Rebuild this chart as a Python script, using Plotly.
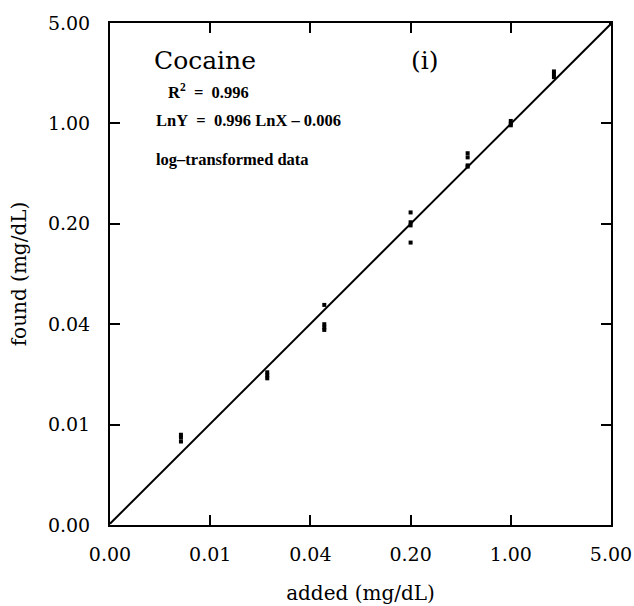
import numpy as np
import plotly.graph_objects as go

# ---- data ----
added = [0.005, 0.005, 0.005,
         0.02, 0.02, 0.02,
         0.05, 0.05, 0.05, 0.05,
         0.2, 0.2, 0.2, 0.2,
         0.5, 0.5, 0.5, 0.5,
         1.0, 1.0, 1.0,
         2.0, 2.0, 2.0,
         5.0, 5.0]
found = [0.0068, 0.0065, 0.0061,
         0.0185, 0.0176, 0.0168,
         0.0545, 0.040, 0.038, 0.0365,
         0.24, 0.205, 0.195, 0.148,
         0.62, 0.58, 0.51, 0.50,
         1.04, 1.0, 0.97,
         2.3, 2.2, 2.1,
         5.0, 4.95]

fit_slope = 0.996
fit_intercept = -0.006
axis_min = 0.0016
axis_max = 5.0

tick_vals = [0.0016, 0.008, 0.04, 0.2, 1.0, 5.0]
tick_text = ["0.00", "0.01", "0.04", "0.20", "1.00", "5.00"]

# ---- figure ----
line_x = np.array([axis_min, axis_max])
line_y = np.exp(fit_intercept) * line_x ** fit_slope

fig = go.Figure()
fig.add_trace(go.Scatter(x=line_x, y=line_y, mode="lines",
                         line=dict(color="black", width=2),
                         showlegend=False, hoverinfo="skip", cliponaxis=True))
fig.add_trace(go.Scatter(x=added, y=found, mode="markers",
                         marker=dict(symbol="square", size=4, color="black",
                                     line=dict(width=0)),
                         showlegend=False, cliponaxis=False))

tick_font = dict(family="DejaVu Serif", size=19, color="black")
title_font = dict(family="DejaVu Serif", size=20, color="black")

axis_common = dict(
    type="log",
    range=[np.log10(axis_min), np.log10(axis_max)],
    tickmode="array", tickvals=tick_vals, ticktext=tick_text,
    ticks="inside", ticklen=10, tickwidth=2, tickcolor="black",
    showline=True, linecolor="black", linewidth=2, mirror="ticks",
    showgrid=False, zeroline=False, automargin=False,
    tickfont=tick_font,
)

fig.update_layout(
    width=634, height=606,
    margin=dict(l=110, r=23, t=23, b=81),
    paper_bgcolor="white", plot_bgcolor="white",
    xaxis=dict(axis_common, ticklabelstandoff=11,
               title=dict(text="added (mg/dL)", font=title_font, standoff=22)),
    yaxis=dict(axis_common, ticklabelstandoff=14,
               title=dict(text="found (mg/dL)", font=title_font, standoff=16)),
)

ann_font = dict(family="Liberation Serif", size=16.5, color="black", weight="bold")
fig.add_annotation(x=0.084, y=0.926, xref="paper", yref="paper", text="Cocaine",
                   showarrow=False, xanchor="left", yanchor="middle",
                   font=dict(family="DejaVu Serif", size=25, color="black"))
fig.add_annotation(x=0.629, y=0.926, xref="paper", yref="paper", text="(i)",
                   showarrow=False, xanchor="center", yanchor="middle",
                   font=dict(family="DejaVu Serif", size=25, color="black"))
fig.add_annotation(x=0.112, y=0.8626, xref="paper", yref="paper",
                   text="R<sup>2</sup>\u00a0\u00a0=\u00a0\u00a00.996",
                   showarrow=False, xanchor="left", yanchor="middle", font=ann_font)
fig.add_annotation(x=0.088, y=0.805, xref="paper", yref="paper",
                   text="LnY\u00a0\u00a0=\u00a0\u00a00.996 LnX \u2013 0.006",
                   showarrow=False, xanchor="left", yanchor="middle", font=ann_font)
fig.add_annotation(x=0.088, y=0.729, xref="paper", yref="paper",
                   text="log\u2013transformed data",
                   showarrow=False, xanchor="left", yanchor="middle", font=ann_font)

# remove the page's default body margin so the figure fills the window exactly
fig.write_html("out.html", config={"displayModeBar": False},
               post_script="document.body.style.margin='0';")
